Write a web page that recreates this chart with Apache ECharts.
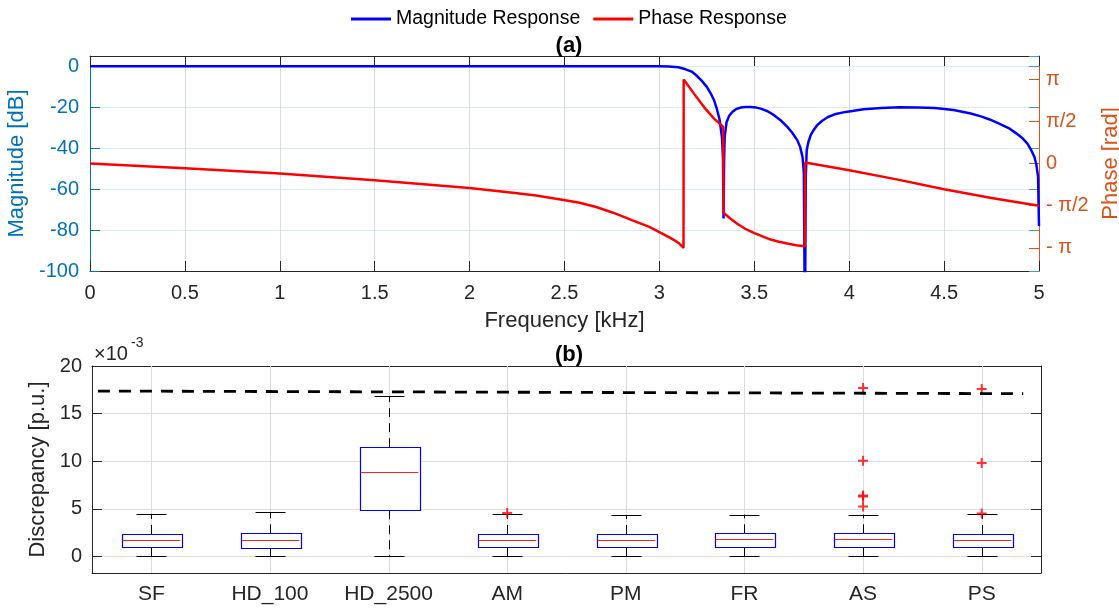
<!DOCTYPE html>
<html>
<head>
<meta charset="utf-8">
<script src="https://cdn.jsdelivr.net/npm/echarts@6/dist/echarts.min.js"></script>
<style>html,body{margin:0;padding:0;background:#fff}#c{width:1119px;height:608px}</style>
</head>
<body>
<div id="c"></div>
<script>
// ---------- (a) Frequency response ----------
const magFreq = [0,0.5,1,1.5,2,2.5,2.9,3.0,3.05,3.1,3.138,3.17,3.194,3.225,3.25,3.27,3.288,3.303,3.317,3.33,3.335,3.338,3.341,3.344,3.354,3.368,3.384,3.405,3.428,3.455,3.481,3.51,3.534,3.57,3.604,3.64,3.674,3.70,3.727,3.742,3.754,3.761,3.767,3.771,3.776,3.785,3.797,3.814,3.831,3.858,3.888,3.93,3.982,4.076,4.17,4.264,4.36,4.452,4.55,4.64,4.694,4.74,4.79,4.84,4.882,4.91,4.939,4.958,4.976,4.986,4.995,5.0];
const magDB   = [0,0,0,0,0,0,0,-0.05,-0.15,-0.5,-1.5,-2.6,-4.4,-7.3,-10.1,-13.2,-16.6,-21,-26,-35,-45,-74.4,-45,-34.5,-27.2,-24.2,-22.3,-20.9,-20.2,-19.9,-19.9,-20.2,-20.7,-22,-23.9,-26.5,-29.6,-32.5,-36.2,-39.5,-44.3,-52,-130,-55,-41,-37,-33.7,-31,-28.8,-26.6,-24.8,-23.3,-22.3,-21,-20.4,-20,-20.1,-20.4,-21.4,-23.1,-24.5,-26,-28,-30.2,-32.9,-34.9,-37.8,-40.8,-44.3,-48,-54,-78];

const phaseFreq = [0,0.5,1,1.5,2,2.24,2.35,2.48,2.58,2.667,2.76,2.855,2.947,3.0,3.05,3.08,3.105,3.127,3.128,3.182,3.235,3.288,3.336,3.338,3.37,3.41,3.45,3.5,3.586,3.63,3.674,3.72,3.766,3.768,4.0,4.25,4.5,4.75,5.0];
const phaseRad  = [0,-0.18,-0.376,-0.625,-0.91,-1.10,-1.19,-1.34,-1.46,-1.62,-1.84,-2.11,-2.36,-2.55,-2.74,-2.86,-2.98,-3.14,3.13,2.60,2.10,1.67,1.36,-1.83,-2.03,-2.24,-2.42,-2.59,-2.83,-2.91,-2.98,-3.04,-3.08,0.04,-0.25,-0.59,-0.96,-1.28,-1.57];

const freqTicks = [0,0.5,1,1.5,2,2.5,3,3.5,4,4.5,5];
const phaseTickValues = [-Math.PI, -Math.PI/2, 0, Math.PI/2, Math.PI];
const phaseTickLabels = ['- \u03c0', '- \u03c0/2', '0', '\u03c0/2', '\u03c0'];

// ---------- (b) Discrepancy box plots (x 10^-3 p.u.) ----------
const methods = ['SF','HD_100','HD_2500','AM','PM','FR','AS','PS'];
const boxLow  = [0,0,0,0,0,0,0,0];
const boxQ1   = [0.95,0.84,4.84,0.95,0.95,0.95,0.95,0.95];
const boxMed  = [1.75,1.72,8.81,1.72,1.75,1.79,1.79,1.75];
const boxQ3   = [2.35,2.42,11.47,2.35,2.35,2.42,2.42,2.35];
const boxHigh = [4.46,4.63,16.8,4.46,4.35,4.39,4.39,4.46];
const outlierCat = [3,6,6,6,6,6,7,7,7];
const outlierVal = [4.56,17.68,10.04,6.39,6.28,5.23,17.58,9.82,4.49];
const thresholdX = [0.55, 8.35];
const thresholdY = [17.37, 17.09];

const FONT = '"Liberation Sans", Arial, Helvetica, sans-serif';
const DARK = '#262626';
const BLUE_AX = '#0072BD';
const ORANGE_AX = '#D95319';
const BOX_YMIN = -1.75, BOX_YMAX = 20;

const chart = echarts.init(document.getElementById('c'), null, {renderer: 'canvas'});

function boxRender(params, api) {
  const i = api.value(0);
  const lo = api.value(1), q1 = api.value(2), md = api.value(3), q3 = api.value(4), hi = api.value(5);
  const cw = api.size([1, 0])[0];
  const bw = cw * 0.503, capw = cw * 0.253;
  const pLo = api.coord([i, lo]), pQ1 = api.coord([i, q1]), pMd = api.coord([i, md]), pQ3 = api.coord([i, q3]), pHi = api.coord([i, hi]);
  const gTop = api.coord([i, BOX_YMAX]), gBot = api.coord([i, BOX_YMIN]);
  const x = Math.round(pMd[0]) + 0.5;
  return {
    type: 'group',
    children: [
      {type: 'line', shape: {x1: x, y1: gTop[1], x2: x, y2: gBot[1]}, style: {stroke: '#dedede', lineWidth: 1}, z2: 0},
      {type: 'line', shape: {x1: x, y1: pQ3[1], x2: x, y2: pHi[1]}, style: {stroke: '#000', lineWidth: 1, lineDash: [9, 6]}, z2: 2},
      {type: 'line', shape: {x1: x, y1: pQ1[1], x2: x, y2: pLo[1]}, style: {stroke: '#000', lineWidth: 1, lineDash: [9, 6]}, z2: 2},
      {type: 'line', shape: {x1: x - capw/2, y1: Math.round(pHi[1]) + 0.5, x2: x + capw/2, y2: Math.round(pHi[1]) + 0.5}, style: {stroke: '#000', lineWidth: 1}, z2: 2},
      {type: 'line', shape: {x1: x - capw/2, y1: Math.round(pLo[1]) + 0.5, x2: x + capw/2, y2: Math.round(pLo[1]) + 0.5}, style: {stroke: '#000', lineWidth: 1}, z2: 2},
      {type: 'rect', shape: {x: Math.round(x - bw/2) + 0.5, y: Math.round(pQ3[1]) + 0.5, width: Math.round(bw), height: Math.round(pQ1[1] - pQ3[1])}, style: {stroke: '#0000ff', fill: '#ffffff', lineWidth: 1.2}, z2: 3},
      {type: 'line', shape: {x1: x - bw/2 + 1, y1: Math.round(pMd[1]) + 0.5, x2: x + bw/2 - 1, y2: Math.round(pMd[1]) + 0.5}, style: {stroke: '#ff2020', lineWidth: 1.2}, z2: 4}
    ]
  };
}

const plusPath = 'path://M4,0H6V4H10V6H6V10H4V6H0V4H4Z';

const option = {
  backgroundColor: '#ffffff',
  animation: false,
  textStyle: {fontFamily: FONT},
  title: [
    {text: '(a)', left: 564, top: 30, textAlign: 'center', textStyle: {fontFamily: FONT, fontSize: 22, fontWeight: 'bold', color: '#000'}},
    {text: '(b)', left: 564, top: 339, textAlign: 'center', textStyle: {fontFamily: FONT, fontSize: 22, fontWeight: 'bold', color: '#000'}}
  ],
  legend: {
    top: 4, left: 346,
    icon: 'rect', itemWidth: 40, itemHeight: 3, itemGap: 13,
    textStyle: {fontFamily: FONT, fontSize: 19.5, color: '#000'},
    data: ['Magnitude Response', 'Phase Response']
  },
  graphic: [
    {type: 'text', left: 94, top: 344, style: {text: '\u00d710', font: '20px ' + FONT, fill: DARK}},
    {type: 'text', left: 131, top: 336, style: {text: '-3', font: '14px ' + FONT, fill: DARK}}
  ],
  grid: [
    {left: 90, right: 80, top: 56, bottom: 337, containLabel: false, outerBoundsMode: 'none'},
    {left: 92, right: 78, top: 366, bottom: 35, containLabel: false, outerBoundsMode: 'none'}
  ],
  xAxis: [
    {gridIndex: 0, type: 'value', min: 0, max: 5, interval: 0.5, position: 'bottom',
     name: 'Frequency [kHz]', nameLocation: 'middle', nameGap: 39,
     nameTextStyle: {fontFamily: FONT, fontSize: 22, color: DARK},
     axisLine: {onZero: false, lineStyle: {color: DARK, width: 1}},
     axisTick: {inside: true, length: 10, lineStyle: {color: DARK}},
     axisLabel: {fontFamily: FONT, fontSize: 20, color: DARK, margin: 12},
     splitLine: {show: true, lineStyle: {color: '#dedede', width: 1}}},
    {gridIndex: 0, type: 'value', min: 0, max: 5, interval: 0.5, position: 'top',
     axisLine: {onZero: false, lineStyle: {color: DARK, width: 1}},
     axisTick: {inside: true, length: 10, lineStyle: {color: DARK}},
     axisLabel: {show: false}, splitLine: {show: false}},
    {gridIndex: 1, type: 'category', data: methods, position: 'bottom', boundaryGap: true,
     axisLine: {onZero: false, lineStyle: {color: DARK, width: 1}},
     axisTick: {inside: true, alignWithLabel: true, length: 10, lineStyle: {color: DARK}},
     axisLabel: {fontFamily: FONT, fontSize: 21, color: DARK, margin: 11},
     splitLine: {show: false}},
    {gridIndex: 1, type: 'category', data: methods, position: 'top', boundaryGap: true,
     axisLine: {onZero: false, lineStyle: {color: DARK, width: 1}},
     axisTick: {inside: true, alignWithLabel: true, length: 10, lineStyle: {color: DARK}},
     axisLabel: {show: false}, splitLine: {show: false}},
    {gridIndex: 1, type: 'value', min: 0.5, max: 8.5, show: false, axisLine: {onZero: false}}
  ],
  yAxis: [
    {gridIndex: 0, type: 'value', min: -100, max: 5, interval: 20, position: 'left',
     name: 'Magnitude [dB]', nameLocation: 'middle', nameGap: 53, nameRotate: 90,
     nameTextStyle: {fontFamily: FONT, fontSize: 22, color: BLUE_AX},
     axisLine: {show: true, onZero: false, lineStyle: {color: BLUE_AX, width: 1}},
     axisTick: {show: true, inside: true, length: 10, lineStyle: {color: BLUE_AX}},
     axisLabel: {fontFamily: FONT, fontSize: 20, color: BLUE_AX, margin: 11, showMaxLabel: false},
     splitLine: {show: true, lineStyle: {color: '#d9eaf5', width: 1}}},
    {gridIndex: 0, type: 'value', min: -4, max: 4, position: 'right',
     name: 'Phase [rad]', nameLocation: 'middle', nameGap: 54, nameRotate: 90,
     nameTextStyle: {fontFamily: FONT, fontSize: 22, color: ORANGE_AX},
     axisLine: {show: true, onZero: false, lineStyle: {color: ORANGE_AX, width: 1}},
     axisTick: {show: true, inside: true, length: 10, lineStyle: {color: ORANGE_AX}, customValues: phaseTickValues},
     axisLabel: {fontFamily: FONT, fontSize: 20, color: ORANGE_AX, margin: 7, customValues: phaseTickValues,
       formatter: function (v) {
         let best = 0, bd = 1e9;
         phaseTickValues.forEach(function (t, k) { const d = Math.abs(t - v); if (d < bd) { bd = d; best = k; } });
         return phaseTickLabels[best];
       }},
     splitLine: {show: false}},
    {gridIndex: 0, type: 'value', min: -100, max: 5, interval: 20, position: 'right',
     axisLine: {show: false, onZero: false},
     axisTick: {show: true, inside: true, length: 10, lineStyle: {color: '#4a96d0'}},
     axisLabel: {show: false}, splitLine: {show: false}},
    {gridIndex: 1, type: 'value', min: BOX_YMIN, max: BOX_YMAX, position: 'left',
     name: 'Discrepancy [p.u.]', nameLocation: 'middle', nameGap: 35, nameRotate: 90,
     nameTextStyle: {fontFamily: FONT, fontSize: 22, color: DARK},
     axisLine: {show: true, onZero: false, lineStyle: {color: DARK, width: 1}},
     axisTick: {show: true, inside: true, length: 10, lineStyle: {color: DARK}},
     axisLabel: {fontFamily: FONT, fontSize: 20, color: DARK, margin: 10, showMinLabel: false},
     splitLine: {show: true, lineStyle: {color: '#dedede', width: 1}}},
    {gridIndex: 1, type: 'value', min: BOX_YMIN, max: BOX_YMAX, position: 'right',
     axisLine: {show: true, onZero: false, lineStyle: {color: DARK, width: 1}},
     axisTick: {show: true, inside: true, length: 10, lineStyle: {color: DARK}},
     axisLabel: {show: false}, splitLine: {show: false}}
  ],
  series: [
    {name: 'Magnitude Response', type: 'line', xAxisIndex: 0, yAxisIndex: 0,
     data: magFreq.map(function (f, k) { return [f, magDB[k]]; }),
     symbol: 'none', clip: true, color: '#0000ff', lineStyle: {color: '#0000ff', width: 2.5}, z: 3},
    {name: 'Phase Response', type: 'line', xAxisIndex: 0, yAxisIndex: 1,
     data: phaseFreq.map(function (f, k) { return [f, phaseRad[k]]; }),
     symbol: 'none', clip: true, color: '#ff0000', lineStyle: {color: '#ff0000', width: 2.5}, z: 4},
    {name: 'boxes', type: 'custom', xAxisIndex: 2, yAxisIndex: 3,
     renderItem: boxRender,
     encode: {x: 0, y: [1, 2, 3, 4, 5]},
     data: methods.map(function (m, k) { return [k, boxLow[k], boxQ1[k], boxMed[k], boxQ3[k], boxHigh[k]]; }),
     z: 2},
    {name: 'outliers', type: 'scatter', xAxisIndex: 2, yAxisIndex: 3,
     symbol: plusPath, symbolSize: 10,
     itemStyle: {color: '#ff0000'},
     data: outlierCat.map(function (c, k) { return [c, outlierVal[k]]; }), z: 5},
    {name: 'threshold', type: 'line', xAxisIndex: 4, yAxisIndex: 3,
     data: thresholdX.map(function (x, k) { return [x, thresholdY[k]]; }),
     symbol: 'none', lineStyle: {color: '#000', width: 2.8, type: [12, 9]}, z: 6}
  ]
};
chart.setOption(option);
</script>
</body>
</html>
